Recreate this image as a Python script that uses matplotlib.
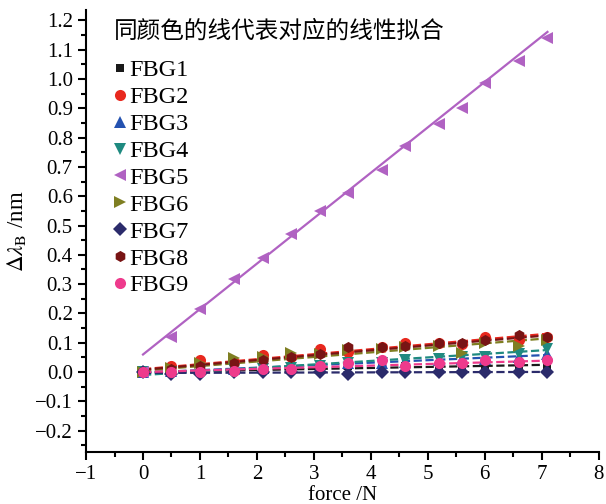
import matplotlib
matplotlib.use("Agg")
import matplotlib.pyplot as plt
import numpy as np
from matplotlib.ticker import MultipleLocator

plt.rcParams['font.family'] = ['Liberation Serif', 'Noto Sans CJK SC']
plt.rcParams['mathtext.fontset'] = 'stix'
plt.rcParams['axes.unicode_minus'] = True

force = [0, 0.5, 1.0, 1.6, 2.1, 2.6, 3.1, 3.6, 4.2, 4.6, 5.2, 5.6, 6.0, 6.6, 7.1]

fbg1 = [0, 0.005, 0.01, 0.01, 0.012, 0.015, 0.02, 0.02, 0.02, 0.022, 0.02, 0.02, 0.025, 0.02, 0.02]
fbg2 = [0, 0.02, 0.04, 0.035, 0.058, 0.05, 0.08, 0.07, 0.085, 0.10, 0.10, 0.095, 0.12, 0.11, 0.12]
fbg3 = [0, 0.005, 0.01, 0.01, 0.015, 0.02, 0.02, 0.03, 0.03, 0.035, 0.04, 0.045, 0.045, 0.05, 0.06]
fbg4 = [0, 0.0, 0.005, 0.01, 0.01, 0.015, 0.02, 0.03, 0.03, 0.04, 0.045, 0.05, 0.05, 0.06, 0.08]
fbg5 = [0, 0.12, 0.215, 0.317, 0.39, 0.47, 0.55, 0.61, 0.69, 0.77, 0.846, 0.90, 0.986, 1.06, 1.14]
fbg6 = [0, 0.015, 0.03, 0.048, 0.05, 0.065, 0.06, 0.075, 0.08, 0.085, 0.09, 0.065, 0.10, 0.09, 0.11]
fbg7 = [0, -0.005, -0.005, 0.0, 0.0, 0.0, 0.0, -0.005, 0.0, 0.0, 0.0, 0.0, 0.0, 0.0, 0.0]
fbg8 = [0, 0.01, 0.02, 0.03, 0.04, 0.05, 0.06, 0.085, 0.085, 0.09, 0.10, 0.10, 0.11, 0.125, 0.12]
fbg9 = [0, 0.0, 0.0, 0.005, 0.01, 0.01, 0.02, 0.03, 0.04, 0.02, 0.03, 0.03, 0.04, 0.035, 0.04]

fit_slope = [0.0035, 0.017, 0.0085, 0.012, 0.155, 0.0155, 0.0005, 0.0165, 0.0055]
fit_intercept = [0.0, 0.01, -0.002, -0.01, 0.06, 0.005, -0.003, 0.008, 0.0]

labels = ['FBG1', 'FBG2', 'FBG3', 'FBG4', 'FBG5', 'FBG6', 'FBG7', 'FBG8', 'FBG9']
series = [fbg1, fbg2, fbg3, fbg4, fbg5, fbg6, fbg7, fbg8, fbg9]
colors = ['#1a1a1a', '#e8281e', '#2452b0', '#1f8a80', '#b062c2', '#7f7f22', '#2b2b6b', '#781414', '#ee3a8c']
markers = ['s', 'o', '^', 'v', '<', '>', 'D', 'h', 'o']
msizes = [6, 8, 8, 8, 8.5, 8, 7, 8, 8]

fig = plt.figure(figsize=(6.06, 5.04), dpi=100)
ax = fig.add_axes([0.142, 0.103, 0.846, 0.877])

x = np.array(force)
handles = []
for i, (lab, y) in enumerate(zip(labels, series)):
    xf = np.array([0, x[-1]])
    yf = fit_slope[i] * xf + fit_intercept[i]
    ls = '-' if lab == 'FBG5' else '--'
    ax.plot(xf, yf, ls, color=colors[i], lw=1.6, zorder=2)
for i, (lab, y) in enumerate(zip(labels, series)):
    h, = ax.plot(force, y, linestyle='none', marker=markers[i], color=colors[i],
                 markersize=msizes[i], markeredgewidth=0, label=lab, zorder=3)
    handles.append(h)

ax.set_xlim(-1, 8)
ax.set_ylim(-0.273, 1.235)
ax.xaxis.set_major_locator(MultipleLocator(1))
ax.xaxis.set_minor_locator(MultipleLocator(0.5))
ax.set_yticks(np.round(np.arange(-0.2, 1.21, 0.1), 1))
ax.yaxis.set_minor_locator(MultipleLocator(0.05))
ax.spines['top'].set_visible(False)
ax.spines['right'].set_visible(False)
for s in ['left', 'bottom']:
    ax.spines[s].set_linewidth(1.5)
ax.tick_params(which='major', direction='out', length=6, width=1.5, labelsize=15)
ax.tick_params(which='minor', direction='out', length=3.5, width=1.5)
ax.set_xlabel('force /N', fontsize=15, labelpad=1)
ax.set_ylabel(r'$\Delta\lambda_\mathrm{B}$ /nm', fontsize=16.5, labelpad=5)

leg = ax.legend(handles=handles, loc='upper left', bbox_to_anchor=(0.035, 1.0), frameon=False,
                title='同颜色的线代表对应的线性拟合', alignment='left',
                prop={'family': 'Liberation Serif', 'size': 17.5},
                handlelength=0.5, handletextpad=0.12, labelspacing=0.2, borderaxespad=0)
leg.get_title().set_fontfamily(['Noto Sans CJK SC'])
leg.get_title().set_fontsize(17)
leg._legend_box.sep = 12

fig.savefig('out.png', dpi=100)
